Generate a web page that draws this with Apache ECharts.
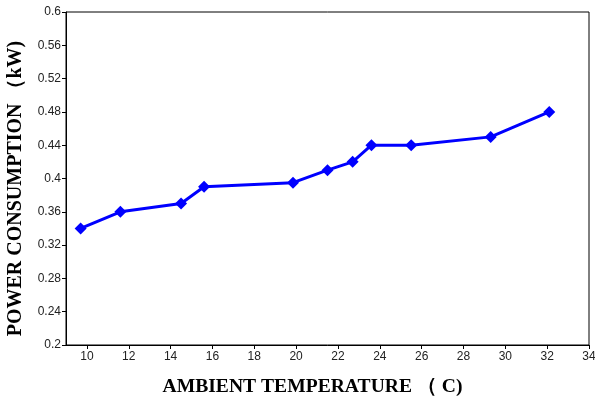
<!DOCTYPE html>
<html>
<head>
<meta charset="utf-8">
<script src="https://cdn.jsdelivr.net/npm/echarts@6/dist/echarts.min.js"></script>
<style>
  html, body { margin: 0; padding: 0; background: #fff; }
  #chart { width: 595px; height: 401px; }
</style>
</head>
<body>
<div id="chart"></div>
<script>
// ambient temperature (C) vs power consumption (kW)
var temperature = [9.7, 11.6, 14.5, 15.6, 19.85, 21.5, 22.7, 23.6, 25.5, 29.3, 32.1]
var power = [0.34, 0.36, 0.37, 0.39, 0.395, 0.41, 0.42, 0.44, 0.44, 0.45, 0.48]
var xTicks = [10, 12, 14, 16, 18, 20, 22, 24, 26, 28, 30, 32, 34]

var chart = echarts.init(document.getElementById('chart'))

chart.setOption({
  animation: false,
  grid: {
    left: 66,
    right: 6,
    top: 12,
    bottom: 56,
    outerBoundsMode: 'none',
    containLabel: false,
    show: true,
    borderColor: '#000',
    borderWidth: 1
  },
  xAxis: {
    type: 'value',
    min: 9,
    max: 34,
    name: 'AMBIENT TEMPERATURE （ C)',
    nameLocation: 'middle',
    nameGap: 32,
    nameTextStyle: {
      fontFamily: 'Liberation Serif',
      fontWeight: 'bold',
      fontSize: 19.6,
      color: '#000',
      padding: [0, 30, 0, 0]
    },
    axisLine: { lineStyle: { color: '#000', width: 1 } },
    axisTick: {
      length: 4,
      lineStyle: { color: '#000' },
      customValues: xTicks
    },
    axisLabel: {
      fontFamily: 'Liberation Sans',
      fontSize: 12,
      color: '#222',
      margin: 6,
      customValues: xTicks
    },
    splitLine: { show: false }
  },
  yAxis: {
    type: 'value',
    min: 0.2,
    max: 0.6,
    interval: 0.04,
    name: 'POWER CONSUMPTION （kW)',
    nameLocation: 'middle',
    nameGap: 40,
    nameTextStyle: {
      fontFamily: 'Liberation Serif',
      fontWeight: 'bold',
      fontSize: 20,
      color: '#000',
      padding: [0, 20, 0, 0]
    },
    axisLine: { show: true, lineStyle: { color: '#000', width: 1 } },
    axisTick: { show: true, length: 4, lineStyle: { color: '#000' } },
    axisLabel: {
      fontFamily: 'Liberation Sans',
      fontSize: 12,
      color: '#222',
      margin: 5,
      formatter: function (v) { return String(+v.toFixed(2)) }
    },
    splitLine: { show: false }
  },
  series: [{
    type: 'line',
    data: temperature.map(function (t, i) { return [t, power[i]] }),
    symbol: 'diamond',
    symbolSize: 12,
    lineStyle: { color: '#0000ff', width: 3 },
    itemStyle: { color: '#0000ff' }
  }]
})
</script>
</body>
</html>
